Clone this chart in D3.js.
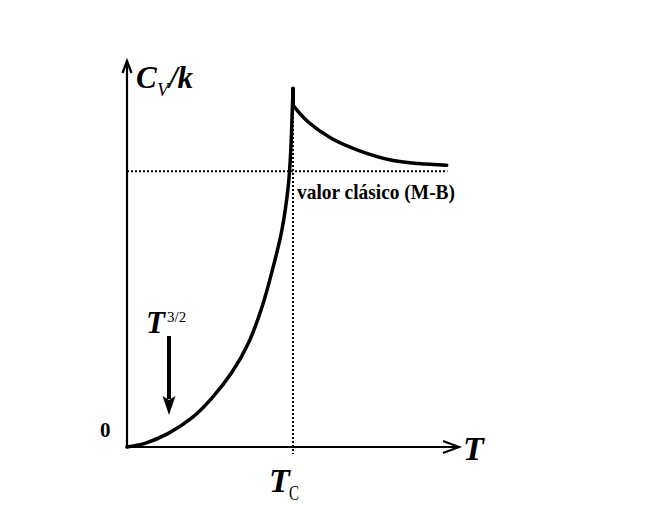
<!DOCTYPE html>
<html>
<head>
<meta charset="utf-8">
<script src="https://cdn.jsdelivr.net/npm/d3@7"></script>
<style>
  html, body { margin: 0; padding: 0; background: #fff; }
  svg { display: block; }
  text { font-family: "Liberation Serif", "Times New Roman", serif; fill: #000; }
</style>
</head>
<body>
<svg id="chart" width="648" height="524"></svg>
<script>
// Heat capacity of an ideal Bose gas, C_V/k versus T (T in units of T_C)
const belowTc = [
  [0.000, 0.000], [0.108, 0.020], [0.249, 0.074], [0.390, 0.158],
  [0.510, 0.265], [0.631, 0.405], [0.731, 0.565], [0.811, 0.755],
  [0.872, 0.950], [0.932, 1.175], [0.972, 1.424], [0.986, 1.605],
  [0.994, 1.786], [1.000, 1.950]
];
const cuspTc = [[1.000, 1.950], [1.000, 1.859]];
const aboveTc = [
  [1.000, 1.859], [1.092, 1.768], [1.233, 1.678], [1.393, 1.614],
  [1.595, 1.560], [1.755, 1.542], [1.926, 1.533]
];
const classicalValue = 1.5;   // Maxwell-Boltzmann limit
const criticalT = 1.0;
const classicalEnd = 1.93;
const axisMax = { T: 2.0, C: 2.1 };

const svg = d3.select("#chart");
const x = d3.scaleLinear().domain([0, axisMax.T]).range([127, 459]);
const y = d3.scaleLinear().domain([0, axisMax.C]).range([447, 61]);

const smooth = d3.line().x(d => x(d[0])).y(d => y(d[1])).curve(d3.curveCatmullRom.alpha(0.5));
const straight = d3.line().x(d => x(d[0])).y(d => y(d[1]));

// reference lines
svg.append("line")
  .attr("x1", x(0)).attr("x2", x(classicalEnd))
  .attr("y1", y(classicalValue)).attr("y2", y(classicalValue))
  .attr("stroke", "#000").attr("stroke-width", 2).attr("stroke-dasharray", "2,2");
svg.append("line")
  .attr("x1", x(criticalT)).attr("x2", x(criticalT))
  .attr("y1", y(1.86)).attr("y2", y(0) + 7)
  .attr("stroke", "#000").attr("stroke-width", 2).attr("stroke-dasharray", "2,2");

// axes with open arrowheads
const ax = svg.append("g").attr("stroke", "#000").attr("stroke-width", 2.2)
  .attr("fill", "none").attr("stroke-linecap", "butt");
ax.append("line").attr("x1", x(0)).attr("y1", y(0)).attr("x2", x(0)).attr("y2", y(axisMax.C));
ax.append("line").attr("x1", x(0) - 1).attr("y1", y(0)).attr("x2", x(axisMax.T)).attr("y2", y(0));
ax.append("path")
  .attr("d", `M${x(0) - 4.5},${y(axisMax.C) + 12} L${x(0)},${y(axisMax.C)} L${x(0) + 4.5},${y(axisMax.C) + 12}`)
  .attr("stroke-linejoin", "miter");
ax.append("path")
  .attr("d", `M${x(axisMax.T) - 16},${y(0) - 6} L${x(axisMax.T)},${y(0)} L${x(axisMax.T) - 16},${y(0) + 6}`)
  .attr("stroke-linejoin", "miter");

// curve
const curveG = svg.append("g").attr("fill", "none").attr("stroke", "#000")
  .attr("stroke-width", 3.5).attr("stroke-linecap", "round");
curveG.append("path").datum(belowTc).attr("d", smooth);
curveG.append("path").datum(cuspTc).attr("d", straight).attr("stroke-width", 4);
curveG.append("path").datum(aboveTc).attr("d", smooth);

// y-axis label C_V/k
const yl = svg.append("text").attr("y", 88);
yl.append("tspan").attr("x", 136).attr("font-size", 31).attr("font-weight", "bold").attr("font-style", "italic").text("C");
yl.append("tspan").attr("x", 157).attr("y", 96).attr("font-size", 19).attr("font-style", "italic").text("V");
yl.append("tspan").attr("x", 169).attr("y", 88).attr("font-size", 31).attr("font-weight", "bold").attr("font-style", "italic").text("/k");

// classical value label
svg.append("text").attr("x", 297).attr("y", 199)
  .attr("font-size", 21).attr("font-weight", "bold")
  .attr("textLength", 158).attr("lengthAdjust", "spacingAndGlyphs")
  .text("valor clásico (M-B)");

// origin label
svg.append("text").attr("x", 100).attr("y", 437)
  .attr("font-size", 21).attr("font-weight", "bold").text("0");

// x-axis label
svg.append("text").attr("x", 463).attr("y", 460)
  .attr("font-size", 34).attr("font-weight", "bold").attr("font-style", "italic").text("T");

// T_C tick label
const tc = svg.append("text").attr("y", 492);
tc.append("tspan").attr("x", 269).attr("font-size", 34).attr("font-weight", "bold").attr("font-style", "italic").text("T");
tc.append("tspan").attr("x", 289).attr("y", 500).attr("font-size", 20)
  .attr("textLength", 10).attr("lengthAdjust", "spacingAndGlyphs").text("C");

// T^{3/2} annotation with arrow
const ann = svg.append("text").attr("y", 333);
ann.append("tspan").attr("x", 146).attr("font-size", 31).attr("font-weight", "bold").attr("font-style", "italic").text("T");
ann.append("tspan").attr("x", 167).attr("y", 322).attr("font-size", 15).text("3/2");

const ax0 = x(0.253), yTop = 336, yTip = 415;
svg.append("line").attr("x1", ax0).attr("x2", ax0).attr("y1", yTop).attr("y2", yTip - 16)
  .attr("stroke", "#000").attr("stroke-width", 4);
svg.append("path")
  .attr("d", `M${ax0 - 6.5},${yTip - 19} L${ax0},${yTip - 15} L${ax0 + 6.5},${yTip - 19} L${ax0},${yTip} Z`)
  .attr("fill", "#000");
</script>
</body>
</html>
